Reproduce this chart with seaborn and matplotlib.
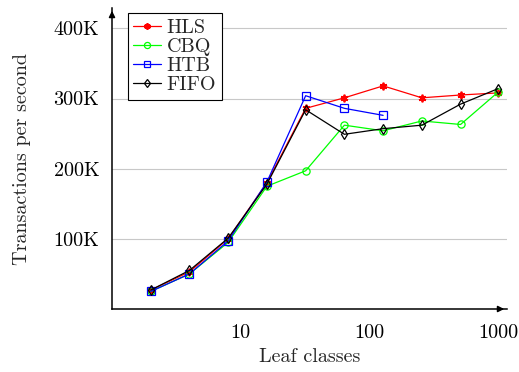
import matplotlib
matplotlib.use("Agg")
import matplotlib.pyplot as plt
import matplotlib.ticker as mticker
import numpy as np
import pandas as pd
import seaborn as sns

# values (transactions per second)
leaf_classes = [2, 4, 8, 16, 32, 64, 128, 256, 512, 1000]
hls = [27000, 53000, 100000, 180000, 286000, 301000, 318000, 301000, 305000, 308000]
cbq = [25000, 50000, 95000, 175000, 197000, 262000, 254000, 268000, 263000, 309000]
htb = [25000, 50000, 97000, 181000, 304000, 286000, 276000]
fifo = [27000, 55000, 101000, 178000, 284000, 249000, 257000, 262000, 292000, 314000]

series = {"HLS": hls, "CBQ": cbq, "HTB": htb, "FIFO": fifo}
rows = []
for name, vals in series.items():
    for x, v in zip(leaf_classes, vals):
        rows.append({"Leaf classes": x, "tps": v, "scheduler": name})
df = pd.DataFrame(rows)

sns.set_theme(style="white")
plt.rcParams["font.family"] = ["cmr10", "DejaVu Serif"]
plt.rcParams["axes.formatter.use_mathtext"] = True
plt.rcParams["mathtext.fontset"] = "cm"

FS = 14.5
palette = {"HLS": "#ff0000", "CBQ": "#00ff00", "HTB": "#0000ff", "FIFO": "#000000"}
markers = {"HLS": "*", "CBQ": "o", "HTB": "s", "FIFO": "d"}
msizes = {"HLS": 5.5, "CBQ": 5.2, "HTB": 5.2, "FIFO": 5.0}
name_of_color = {v: k for k, v in palette.items()}

fig = plt.figure(figsize=(5.19, 3.72), dpi=100)
ax = fig.add_axes([112 / 519, 1 - 309 / 372, 395 / 519, 301 / 372])

ax.yaxis.grid(True, color="#c8c8c8", linewidth=0.8)
ax.set_axisbelow(True)

sns.lineplot(data=df, x="Leaf classes", y="tps", hue="scheduler", style="scheduler",
             palette=palette, markers=markers, dashes=False, linewidth=0.9,
             ax=ax, legend="full")


def style_marks(line, scale=1.0):
    c = matplotlib.colors.to_hex(line.get_color())
    name = name_of_color.get(c)
    if name is None:
        return
    if name == "HLS":
        line.set_marker((6, 2, 0))  # asterisk like the pgfplots "*" mark
    line.set_markeredgecolor(c)
    line.set_markerfacecolor("none")
    line.set_markeredgewidth(1.3 if name == "HLS" else 0.9)
    line.set_markersize(msizes[name] * scale)


for line in ax.lines:
    style_marks(line)

ax.set_xscale("log")
ax.set_xlim(1, 1175)
ax.set_ylim(0, 429000)

ax.xaxis.set_major_locator(mticker.FixedLocator([1, 10, 100, 1000]))
ax.xaxis.set_major_formatter(mticker.FixedFormatter(["", "10", "100", "1000"]))
ax.xaxis.set_minor_locator(mticker.LogLocator(base=10, subs=np.arange(2, 10), numticks=20))
ax.xaxis.set_minor_formatter(mticker.NullFormatter())
ax.set_yticks([100000, 200000, 300000, 400000])
ax.set_yticklabels(["100K", "200K", "300K", "400K"])

ax.tick_params(axis="both", which="major", labelsize=FS, colors="#000000")
ax.tick_params(axis="x", which="major", direction="out", length=5, width=0.6, color="#555555", pad=6)
ax.tick_params(axis="x", which="minor", direction="out", length=3, width=0.6, color="#555555")
ax.tick_params(axis="y", which="major", direction="out", length=6, width=0.6, color="#888888", pad=3)

for s in ["top", "right"]:
    ax.spines[s].set_visible(False)
for s in ["left", "bottom"]:
    ax.spines[s].set_linewidth(1.1)
    ax.spines[s].set_color("black")

# axis arrows
ax.annotate("", xy=(1.0, 0), xytext=(0.97, 0), xycoords="axes fraction",
            arrowprops=dict(arrowstyle="-|>", color="black", lw=1.1, mutation_scale=9))
ax.annotate("", xy=(0, 1.0), xytext=(0, 0.96), xycoords="axes fraction",
            arrowprops=dict(arrowstyle="-|>", color="black", lw=1.1, mutation_scale=9))

ax.set_xlabel("Leaf classes", fontsize=FS, labelpad=4)
ax.set_ylabel("Transactions per second", fontsize=FS, labelpad=16)

handles, labels = ax.get_legend_handles_labels()
for h in handles:
    style_marks(h, 0.85)
leg = ax.legend(handles, labels, loc="upper left", bbox_to_anchor=(0.04, 0.983),
                fontsize=FS, frameon=True, fancybox=False, framealpha=1,
                edgecolor="black", borderpad=0.28, labelspacing=0.05,
                handlelength=1.35, handletextpad=0.3, borderaxespad=0)
leg.get_frame().set_linewidth(0.8)

fig.savefig("out.png", dpi=100)
